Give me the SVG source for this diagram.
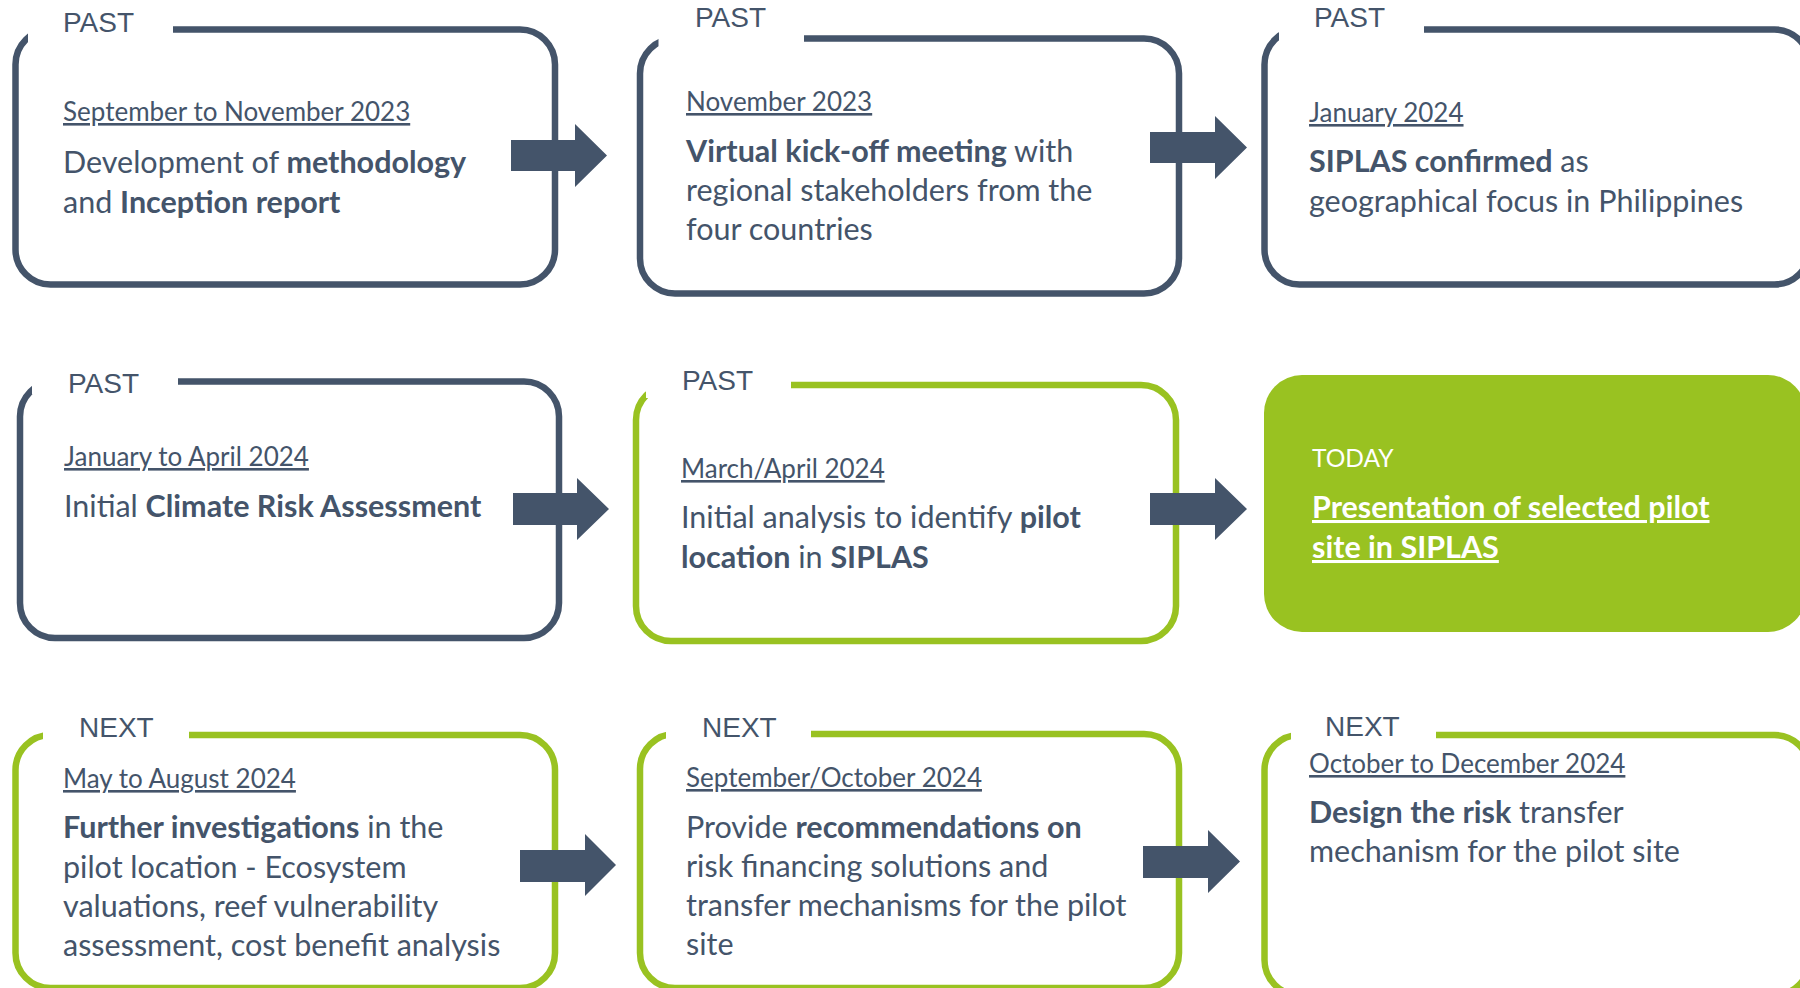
<svg xmlns="http://www.w3.org/2000/svg" width="1800" height="988" viewBox="0 0 1800 988">
<style>
.bg{fill:#ffffff}
.bd{fill:none;stroke:#44546A;stroke-width:6.5}
.bg2{fill:none;stroke:#99C221;stroke-width:6.5}
.cut{fill:#ffffff}
.lbl{font-family:"Liberation Sans",Arial,sans-serif;font-size:28px;fill:#44546A}
.dt{font-family:Lato,"Open Sans",sans-serif;font-size:26px;fill:#44546A;text-decoration:underline}
.tx{font-family:Lato,"Open Sans",sans-serif;font-size:30.5px;fill:#44546A}
.td{font-family:Lato,"Open Sans",sans-serif;font-size:24.5px;fill:#ffffff}
.b{font-weight:bold}
.arr{fill:#44546A}
.wt{fill:#ffffff}
</style>
<rect x="0" y="0" width="1800" height="988" class="bg"/>

<g id="node-a">
<rect x="15.5" y="29.5" width="539.5" height="255" rx="35" class="bd"/>
<rect x="28" y="5" width="145" height="38" class="cut"/>
<text x="63" y="32" class="lbl">PAST</text>
<text x="63" y="121" class="dt">September to November 2023</text>
<text x="63" y="173" class="tx">Development of <tspan class="b">methodology</tspan></text>
<text x="63" y="213" class="tx">and <tspan class="b">Inception report</tspan></text>
</g>

<g id="node-b">
<rect x="640" y="38.5" width="539" height="255" rx="35" class="bd"/>
<rect x="658.5" y="5" width="145.5" height="46" class="cut"/>
<text x="695" y="27" class="lbl">PAST</text>
<text x="686" y="111" class="dt">November 2023</text>
<text x="686" y="162" class="tx"><tspan class="b">Virtual kick-off meeting</tspan> with</text>
<text x="686" y="201" class="tx">regional stakeholders from the</text>
<text x="686" y="240" class="tx">four countries</text>
</g>

<g id="node-c">
<rect x="1264.5" y="29.5" width="545" height="255" rx="35" class="bd"/>
<rect x="1279" y="5" width="145" height="38" class="cut"/>
<text x="1314" y="27" class="lbl">PAST</text>
<text x="1309" y="122" class="dt">January 2024</text>
<text x="1309" y="172" class="tx"><tspan class="b">SIPLAS confirmed</tspan> as</text>
<text x="1309" y="212" class="tx">geographical focus in Philippines</text>
</g>

<g id="node-d">
<rect x="20" y="381.5" width="539" height="256.5" rx="35" class="bd"/>
<rect x="32" y="356" width="146" height="38" class="cut"/>
<text x="68" y="393" class="lbl">PAST</text>
<text x="64" y="466" class="dt">January to April 2024</text>
<text x="64" y="517" class="tx">Initial <tspan class="b">Climate Risk Assessment</tspan></text>
</g>

<g id="node-e">
<rect x="636" y="385" width="540" height="256" rx="35" class="bg2"/>
<rect x="646" y="360" width="145" height="38" class="cut"/>
<text x="682" y="390" class="lbl">PAST</text>
<text x="681" y="478" class="dt">March/April 2024</text>
<text x="681" y="528" class="tx">Initial analysis to identify <tspan class="b">pilot</tspan></text>
<text x="681" y="568" class="tx"><tspan class="b">location</tspan> in <tspan class="b">SIPLAS</tspan></text>
</g>

<g id="node-f">
<rect x="1264" y="375" width="542" height="257" rx="38" fill="#99C221"/>
<text x="1312" y="467" class="td">TODAY</text>
<text x="1312" y="518" class="tx b wt" style="text-decoration:underline">Presentation of selected pilot</text>
<text x="1312" y="558" class="tx b wt" style="text-decoration:underline">site in SIPLAS</text>
</g>

<g id="node-g">
<rect x="15.5" y="735" width="539.5" height="253" rx="35" class="bg2"/>
<rect x="43" y="710" width="146" height="38" class="cut"/>
<text x="79" y="737" class="lbl">NEXT</text>
<text x="63" y="788" class="dt">May to August 2024</text>
<text x="63" y="838" class="tx"><tspan class="b">Further investigations</tspan> in the</text>
<text x="63" y="878" class="tx">pilot location - Ecosystem</text>
<text x="63" y="917" class="tx">valuations, reef vulnerability</text>
<text x="63" y="956" class="tx">assessment, cost benefit analysis</text>
</g>

<g id="node-h">
<rect x="640" y="734" width="539" height="254" rx="35" class="bg2"/>
<rect x="666" y="709" width="145" height="38" class="cut"/>
<text x="702" y="737" class="lbl">NEXT</text>
<text x="686" y="787" class="dt">September/October 2024</text>
<text x="686" y="838" class="tx">Provide <tspan class="b">recommendations on</tspan></text>
<text x="686" y="877" class="tx">risk financing solutions and</text>
<text x="686" y="916" class="tx">transfer mechanisms for the pilot</text>
<text x="686" y="955" class="tx">site</text>
</g>

<g id="node-i">
<rect x="1264.5" y="735" width="545" height="260" rx="35" class="bg2"/>
<rect x="1291" y="710" width="145" height="38" class="cut"/>
<text x="1325" y="736" class="lbl">NEXT</text>
<text x="1309" y="773" class="dt">October to December 2024</text>
<text x="1309" y="823" class="tx"><tspan class="b">Design the risk</tspan> transfer</text>
<text x="1309" y="862" class="tx">mechanism for the pilot site</text>
</g>

<g id="connectors">
<polygon class="arr" points="511,140 575,140 575,124 607,155.5 575,187 575,171 511,171"/>
<polygon class="arr" points="1150,132 1215,132 1215,116 1247,147.5 1215,179 1215,163 1150,163"/>
<polygon class="arr" points="513,493 577,493 577,478 609,509 577,540 577,525 513,525"/>
<polygon class="arr" points="1150,493 1215,493 1215,478 1247,509 1215,540 1215,525 1150,525"/>
<polygon class="arr" points="520,850 585,850 585,834 616,865 585,896 585,882 520,882"/>
<polygon class="arr" points="1143,846 1208,846 1208,830 1240,861.5 1208,893 1208,878 1143,878"/>
</g>
</svg>
